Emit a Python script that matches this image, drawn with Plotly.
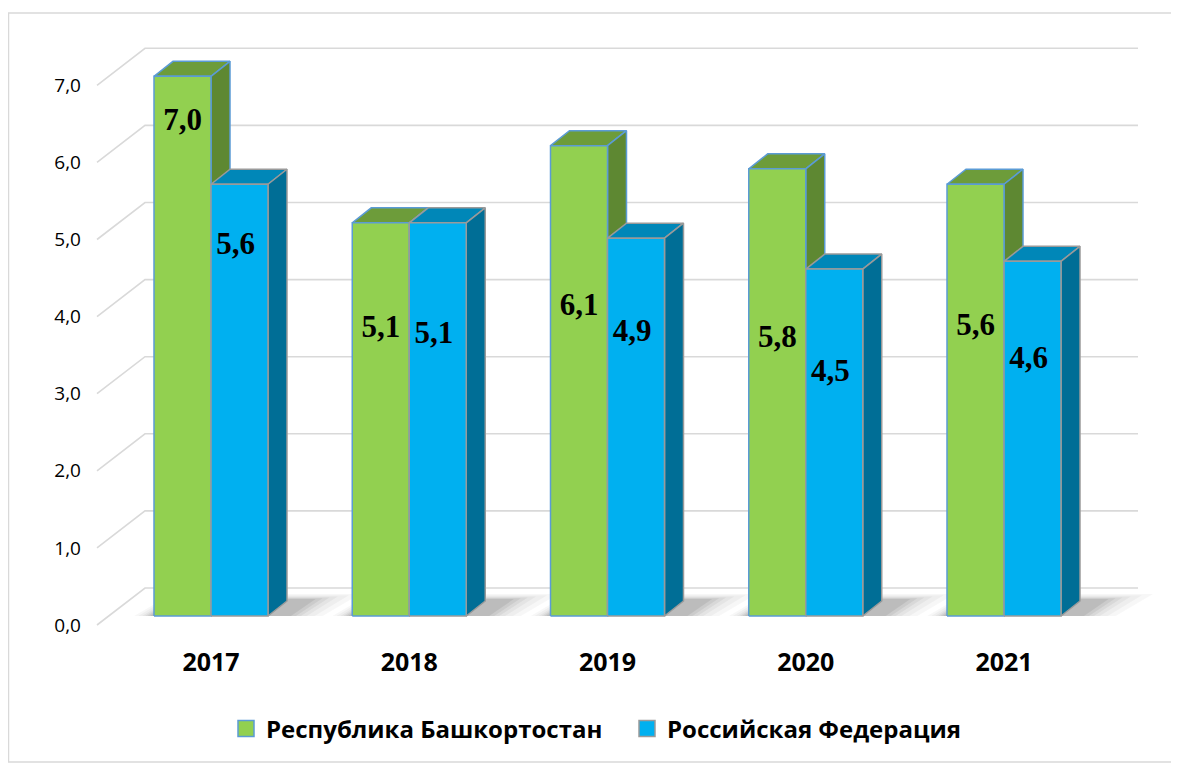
import plotly.graph_objects as go

# ---------------- data ----------------
years = ["2017", "2018", "2019", "2020", "2021"]
series_names = ["Республика Башкортостан", "Российская Федерация"]
bashkortostan = [7.0, 5.1, 6.1, 5.8, 5.6]
russia = [5.6, 5.1, 4.9, 4.5, 4.6]
y_ticks = [0, 1, 2, 3, 4, 5, 6, 7]
y_tick_labels = ["0,0", "1,0", "2,0", "3,0", "4,0", "5,0", "6,0", "7,0"]

# label heights (style: where the value text sits inside each bar)
label_pos_bash = [6.41, 3.72, 4.01, 3.59, 3.74]
label_pos_rus = [4.80, 3.64, 3.67, 3.15, 3.32]

# ---------------- geometry / style ----------------
OFF = 8  # page body margin
FIG_W, FIG_H = 1179 - OFF, 763 - OFF
M_L, M_R, M_T, M_B = 75, 0, 0, 118
PLOT_W = FIG_W - M_L - M_R
PLOT_H = FIG_H - M_T - M_B
X0_PX, X_UNIT = 211.0 - OFF, 198.25      # pixel of category 0 centre, px per category
Y0_PX, Y_UNIT = 616.0 - OFF, 77.1        # pixel of value 0 (bar base), px per unit

BAR_W = 57 / X_UNIT
DEPTH_DX = 19 / X_UNIT
DEPTH_DY = 15 / Y_UNIT
GRID_FX = (97 - OFF - X0_PX) / X_UNIT
GRID_BX = (145 - OFF - X0_PX) / X_UNIT
GRID_RX = (1138 - OFF - X0_PX) / X_UNIT
GRID_FOFF = -9 / Y_UNIT
GRID_BOFF = 28 / Y_UNIT

styles = [
    dict(front="#92D050", top="#6D9C3A", side="#5E8832", edge="#5B9BD5"),
    dict(front="#00B0F0", top="#0087B8", side="#006E96", edge="#9A9A9A"),
]

fig = go.Figure()

# gridlines (perspective: front corner -> back wall)
gx, gy = [], []
for t in y_ticks:
    gx += [GRID_FX, GRID_BX, GRID_RX, None]
    gy += [t + GRID_FOFF, t + GRID_BOFF, t + GRID_BOFF, None]
fig.add_trace(go.Scatter(x=gx, y=gy, mode="lines", line=dict(color="#D9D9D9", width=1.6),
                         hoverinfo="skip", showlegend=False))

# soft shadows under each group
layers = [(0.03, 0.16), (0.035, 0.12), (0.04, 0.08), (0.05, 0.05), (0.06, 0.025), (0.07, 0.0)]
for alpha, grow in layers:
    sx, sy = [], []
    for i in range(len(years)):
        xl = i - BAR_W - 0.02 - grow * 0.5
        xr = i + BAR_W + DEPTH_DX + 0.02 + grow
        sdx = DEPTH_DX * 1.3 + grow * 0.4
        sdy = 0.22 + grow * 0.4
        sx += [xl, xr, xr + sdx, xl + sdx, xl, None]
        sy += [0.0, 0.0, sdy, sdy, 0.0, None]
    fig.add_trace(go.Scatter(x=sx, y=sy, mode="lines", fill="toself",
                             fillcolor=f"rgba(0,0,0,{alpha})", line=dict(width=0),
                             hoverinfo="skip", showlegend=False))

# 3-D bars: for each series draw tops, sides, fronts
for s, vals in enumerate([bashkortostan, russia]):
    st = styles[s]
    faces = {"top": ([], []), "side": ([], []), "front": ([], [])}
    for i, h in enumerate(vals):
        x0 = i + (s - 1) * BAR_W
        x1 = x0 + BAR_W
        tx, ty = faces["top"]
        tx += [x0, x1, x1 + DEPTH_DX, x0 + DEPTH_DX, x0, None]
        ty += [h, h, h + DEPTH_DY, h + DEPTH_DY, h, None]
        sx, sy = faces["side"]
        sx += [x1, x1 + DEPTH_DX, x1 + DEPTH_DX, x1, x1, None]
        sy += [0, DEPTH_DY, h + DEPTH_DY, h, 0, None]
        fx, fy = faces["front"]
        fx += [x0, x1, x1, x0, x0, None]
        fy += [0, 0, h, h, 0, None]
    for face in ["top", "side", "front"]:
        fxs, fys = faces[face]
        fig.add_trace(go.Scatter(x=fxs, y=fys, mode="lines", fill="toself",
                                 fillcolor=st[face], line=dict(color=st["edge"], width=1.5),
                                 hoverinfo="skip", showlegend=False))

# value labels
for s, (vals, pos) in enumerate([(bashkortostan, label_pos_bash), (russia, label_pos_rus)]):
    xs = [i + (s - 0.5) * BAR_W - (4 / X_UNIT if s == 1 else 0) for i in range(len(vals))]
    fig.add_trace(go.Scatter(
        x=xs, y=pos, mode="text",
        text=[f"{v:.1f}".replace(".", ",") for v in vals],
        textfont=dict(family="Liberation Serif", size=31, color="black", weight="bold"),
        textposition="middle center", hoverinfo="skip", showlegend=False))

# legend entries
for s, name in enumerate(series_names):
    fig.add_trace(go.Scatter(x=[None], y=[None], mode="markers", name=name,
                             marker=dict(symbol="square", size=16, color=styles[s]["front"],
                                         line=dict(color=styles[s]["edge"], width=1.5))))

def px_to_paper_x(p):
    return (p - M_L) / PLOT_W

def px_to_paper_y(p):
    return (FIG_H - M_B - p) / PLOT_H

fig.update_layout(
    width=FIG_W, height=FIG_H,
    margin=dict(l=M_L, r=M_R, t=M_T, b=M_B, autoexpand=False),
    paper_bgcolor="white", plot_bgcolor="white",
    font=dict(family="Open Sans", color="black"),
    xaxis=dict(range=[(M_L - X0_PX) / X_UNIT, (FIG_W - M_R - X0_PX) / X_UNIT],
               tickvals=list(range(len(years))), ticktext=years,
               tickfont=dict(family="Open Sans", size=25, weight="bold", color="black"),
               showgrid=False, zeroline=False, showline=False, ticks="",
               ticklabelstandoff=0, fixedrange=True),
    yaxis=dict(range=[(Y0_PX - (FIG_H - M_B)) / Y_UNIT, Y0_PX / Y_UNIT],
               tickvals=y_ticks, ticktext=y_tick_labels,
               tickfont=dict(family="Open Sans", size=19, color="black"),
               showgrid=False, zeroline=False, showline=False, ticks="",
               ticklabelshift=9, ticklabelstandoff=1, fixedrange=True),
    showlegend=True,
    legend=dict(orientation="h", xref="container", yref="container",
                x=(226 - OFF) / FIG_W, y=1 - (729 - OFF) / FIG_H, xanchor="left", yanchor="middle",
                font=dict(family="Open Sans", size=24, weight="bold", color="black"),
                entrywidth=356, entrywidthmode="pixels", bgcolor="rgba(0,0,0,0)"),
    shapes=[dict(type="rect", xref="paper", yref="paper", layer="below",
                 x0=px_to_paper_x(8 - OFF + 0.5), x1=px_to_paper_x(FIG_W + 5),
                 y0=px_to_paper_y(762 - OFF), y1=px_to_paper_y(13 - OFF),
                 line=dict(color="#D9D9D9", width=1.5), fillcolor="rgba(0,0,0,0)")],
)

fig.write_html("out.html")
